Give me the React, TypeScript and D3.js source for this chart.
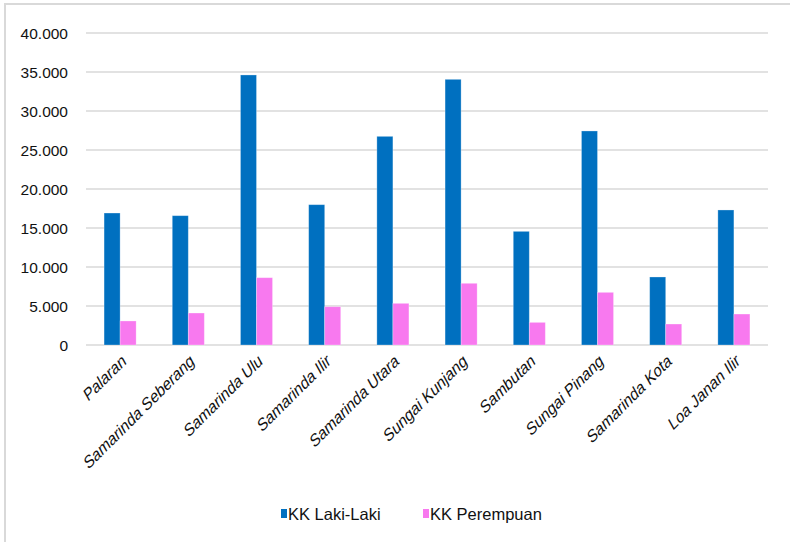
import React from "react";
import * as d3 from "d3";

const categories = [
  "Palaran",
  "Samarinda Seberang",
  "Samarinda Ulu",
  "Samarinda Ilir",
  "Samarinda Utara",
  "Sungai Kunjang",
  "Sambutan",
  "Sungai Pinang",
  "Samarinda Kota",
  "Loa Janan Ilir",
];
const seriesNames = ["KK Laki-Laki", "KK Perempuan"];
const lakiLaki = [16920, 16580, 34620, 17990, 26750, 34060, 14570, 27440, 8720, 17310];
const perempuan = [3080, 4100, 8630, 4910, 5340, 7910, 2900, 6750, 2690, 3970];
const yTicks = [0, 5000, 10000, 15000, 20000, 25000, 30000, 35000, 40000];
const colors = ["#0070C0", "#F879EF"];

const W = 790;
const H = 542;
const FONT = "'Liberation Sans', Arial, sans-serif";

export default function App() {
  const x0 = d3.scaleBand<string>().domain(categories).range([86, 768]).paddingInner(0).paddingOuter(0);
  const bw = x0.bandwidth();
  const barW = bw * 0.235;
  const x1 = d3.scaleBand<string>().domain(seriesNames).range([bw / 2 - barW, bw / 2 + barW]).padding(0);
  const y = d3.scaleLinear().domain([0, 40000]).range([345, 33]);
  const fmt = (v: number) => d3.format(",")(v).replace(/,/g, ".");
  const data = [lakiLaki, perempuan];

  return (
    <svg
      width={W}
      height={H}
      style={{ position: "absolute", left: 0, top: 0, background: "#fff" }}
      fontFamily={FONT}
    >
      <rect x={5} y={4} width={W + 20} height={H + 20} fill="#fff" stroke="#d9d9d9" strokeWidth={2} />
      {yTicks.map((t) => (
        <g key={t}>
          <line x1={86} x2={768} y1={y(t)} y2={y(t)} stroke="#d9d9d9" strokeWidth={1.5} />
          <text x={68} y={y(t)} dy="0.36em" textAnchor="end" fontSize={15.5} fill="#111">
            {fmt(t)}
          </text>
        </g>
      ))}
      {categories.map((c, i) => (
        <g key={c} transform={`translate(${x0(c)},0)`}>
          {seriesNames.map((s, j) => (
            <rect
              key={s}
              x={x1(s)}
              y={y(data[j][i])}
              width={x1.bandwidth()}
              height={y(0) - y(data[j][i])}
              fill={colors[j]}
              stroke="#ffffff"
              strokeOpacity={0.35}
              strokeWidth={0.8}
            />
          ))}
        </g>
      ))}
      {categories.map((c) => {
        const cx = (x0(c) as number) + bw / 2 + 4;
        return (
          <text
            key={c}
            transform={`translate(${cx},${358}) rotate(-45) skewX(-16)`}
            textAnchor="end"
            fontSize={16}
            fill="#111"
            dy="0.35em"
          >
            {c}
          </text>
        );
      })}
      {seriesNames.map((s, j) => {
        const lx = j === 0 ? 281 : 423;
        return (
          <g key={s}>
            <rect x={lx} y={509} width={6} height={9} fill={colors[j]} />
            <text x={lx + 7} y={514} dy="0.36em" fontSize={16.5} fill="#111">
              {s}
            </text>
          </g>
        );
      })}
    </svg>
  );
}
